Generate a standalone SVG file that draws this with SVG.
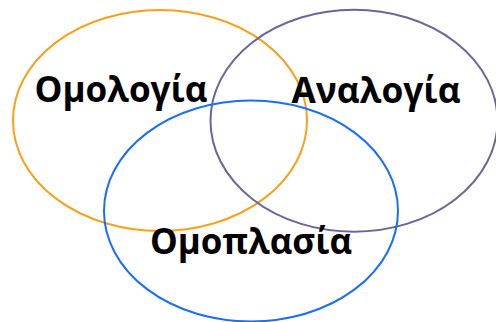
<svg xmlns="http://www.w3.org/2000/svg" width="496" height="322" viewBox="0 0 496 322">
<style>
.c{fill:none;stroke-width:2}
.t{font-family:"Open Sans","Noto Sans",sans-serif;font-weight:bold;font-size:36px;fill:#000;text-anchor:middle}
</style>
<rect width="496" height="322" fill="#fff"/>
<g id="homology">
<ellipse class="c" cx="160" cy="120.5" rx="147" ry="110.5" stroke="#F7A01A"/>
</g>
<g id="analogy">
<ellipse class="c" cx="354" cy="120.7" rx="143.5" ry="111" stroke="#6A6599"/>
</g>
<g id="homoplasy">
<ellipse class="c" cx="251" cy="211" rx="147" ry="110.5" stroke="#1A6EF5"/>
</g>
<g id="labels">
<text class="t" x="121" y="102" textLength="173" lengthAdjust="spacingAndGlyphs">Ομολογία</text>
<text class="t" x="376" y="103" textLength="169" lengthAdjust="spacingAndGlyphs">Αναλογία</text>
<text class="t" x="251" y="254" textLength="202" lengthAdjust="spacingAndGlyphs">Ομοπλασία</text>
</g>
</svg>
